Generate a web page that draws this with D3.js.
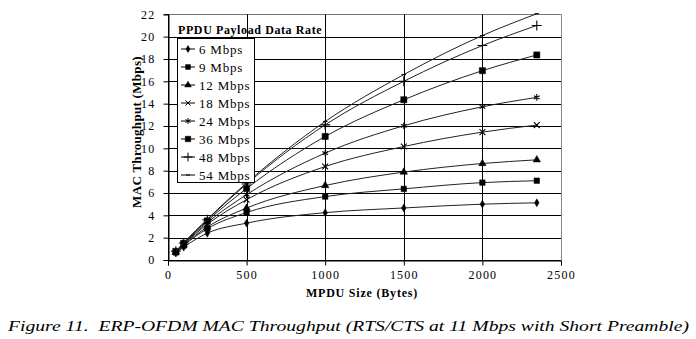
<!DOCTYPE html>
<html>
<head>
<meta charset="utf-8">
<script src="https://cdn.jsdelivr.net/npm/d3@7"></script>
<style>
  body { margin: 0; background: #fff; }
  svg text { font-family: "Liberation Serif", "Times New Roman", serif; fill: #000; }
</style>
</head>
<body>
<div id="chart"></div>
<script>
// MPDU sizes (bytes) and throughput per PPDU rate (Mbps)
const sizes = [50, 100, 250, 500, 1000, 1500, 2000, 2346];
const rateLabels = ["6 Mbps", "9 Mbps", "12 Mbps", "18 Mbps", "24 Mbps", "36 Mbps", "48 Mbps", "54 Mbps"];
const tput6  = [0.62, 1.15, 2.40, 3.30, 4.24, 4.66, 5.00, 5.12];
const tput9  = [0.68, 1.30, 2.80, 4.25, 5.68, 6.37, 6.93, 7.10];
const tput12 = [0.70, 1.35, 2.95, 4.65, 6.67, 7.87, 8.64, 8.97];
const tput18 = [0.73, 1.40, 3.20, 5.40, 8.37, 10.16, 11.45, 12.08];
const tput24 = [0.75, 1.45, 3.35, 5.85, 9.57, 12.02, 13.72, 14.56];
const tput36 = [0.77, 1.50, 3.50, 6.40, 11.06, 14.35, 16.95, 18.36];
const tput48 = [0.78, 1.52, 3.60, 6.80, 12.10, 16.00, 19.20, 21.00];
const tput54 = [0.79, 1.55, 3.65, 6.90, 12.40, 16.60, 20.10, 22.05];
const xTicks = [0, 500, 1000, 1500, 2000, 2500];
const yTicks = [0, 2, 4, 6, 8, 10, 12, 14, 16, 18, 20, 22];

const allSeries = [tput6, tput9, tput12, tput18, tput24, tput36, tput48, tput54];

const width = 696, height = 339;
const svg = d3.select("#chart").append("svg")
  .attr("width", width).attr("height", height);

const x = d3.scaleLinear().domain([0, 2500]).range([168, 561]);
const y = d3.scaleLinear().domain([0, 22]).range([260, 14.3]);

// marker shapes, one per rate
const dash = { draw(ctx, size) { const r = Math.sqrt(size) / 2; ctx.moveTo(-r, 0); ctx.lineTo(r, 0); } };
const markerDefs = [
  { type: d3.symbolDiamond, size: 18, fill: true },
  { type: d3.symbolSquare, size: 30, fill: true },
  { type: d3.symbolTriangle, size: 24, fill: true },
  { type: d3.symbolTimes || d3.symbolX, size: 24, fill: false },
  { type: d3.symbolAsterisk, size: 30, fill: false },
  { type: d3.symbolSquare, size: 38, fill: true },
  { type: d3.symbolPlus, size: 34, fill: false },
  { type: dash, size: 20, fill: false }
];

// grid
const grid = svg.append("g");
grid.selectAll(".hg").data(yTicks).join("line")
  .attr("x1", x(0)).attr("x2", x(2500))
  .attr("y1", d => Math.round(y(d)) + 0.5).attr("y2", d => Math.round(y(d)) + 0.5)
  .attr("stroke", d => d === 22 ? "#777" : "#000").attr("stroke-width", 1);
grid.selectAll(".vg").data(xTicks).join("line")
  .attr("x1", d => Math.round(x(d)) + 0.5).attr("x2", d => Math.round(x(d)) + 0.5)
  .attr("y1", y(22)).attr("y2", y(0))
  .attr("stroke", d => d === 2500 ? "#888" : "#000").attr("stroke-width", 1);

// axes
const xAxis = svg.append("g")
  .attr("transform", `translate(0,${Math.round(y(0)) + 0.5})`)
  .call(d3.axisBottom(x).tickValues(xTicks).tickSize(5).tickPadding(5).tickFormat(d3.format("d")));
const yAxis = svg.append("g")
  .attr("transform", `translate(${Math.round(x(0)) + 0.5},0)`)
  .call(d3.axisLeft(y).tickValues(yTicks).tickSize(5).tickPadding(8).tickFormat(d3.format("d")));
[xAxis, yAxis].forEach(a => {
  a.select(".domain").attr("stroke", "#000");
  a.selectAll(".tick line").attr("stroke", "#000");
  a.selectAll("text").attr("font-size", 12).attr("letter-spacing", "1.2px").attr("fill", "#222");
});

// series lines and markers
const line = d3.line().x((d, i) => x(sizes[i])).y(d => y(d)).curve(d3.curveMonotoneX);
svg.append("clipPath").attr("id", "clip").append("rect")
  .attr("x", x(0)).attr("y", y(22) - 1).attr("width", x(2500) - x(0)).attr("height", y(0) - y(22) + 1);

const series = svg.append("g");
allSeries.forEach((vals, k) => {
  series.append("path").datum(vals)
    .attr("d", line).attr("fill", "none").attr("stroke", "#222").attr("stroke-width", 1)
    .attr("clip-path", "url(#clip)");
  const m = markerDefs[k];
  series.selectAll(".m" + k).data(vals).join("path")
    .attr("transform", (d, i) => `translate(${x(sizes[i])},${y(d)})`)
    .attr("d", d3.symbol().type(m.type).size(m.size))
    .attr("fill", m.fill ? "#000" : "none")
    .attr("stroke", "#000").attr("stroke-width", m.fill ? 0.5 : 1.1);
});

// legend
svg.append("text").attr("x", 178).attr("y", 34)
  .attr("font-size", 12).attr("font-weight", "bold").attr("letter-spacing", "0.6px")
  .text("PPDU Payload Data Rate");
const leg = svg.append("g");
leg.append("rect").attr("x", 177.5).attr("y", 38.5).attr("width", 77).attr("height", 144)
  .attr("fill", "#fff").attr("stroke", "#000");
rateLabels.forEach((lab, k) => {
  const cy = 49 + k * 18;
  leg.append("line").attr("x1", 181).attr("x2", 195).attr("y1", cy).attr("y2", cy)
    .attr("stroke", "#000");
  const m = markerDefs[k];
  leg.append("path").attr("transform", `translate(188,${cy})`)
    .attr("d", d3.symbol().type(m.type).size(m.size * 0.8))
    .attr("fill", m.fill ? "#000" : "none").attr("stroke", "#000").attr("stroke-width", m.fill ? 0.5 : 1);
  leg.append("text").attr("x", 199).attr("y", cy + 4.5)
    .attr("font-size", 13).attr("letter-spacing", "0.8px").text(lab);
});

// axis titles
svg.append("text").attr("x", 362).attr("y", 297).attr("text-anchor", "middle")
  .attr("font-size", 12).attr("font-weight", "bold").attr("letter-spacing", "0.8px")
  .text("MPDU Size (Bytes)");
svg.append("text").attr("transform", "translate(141,132) rotate(-90)").attr("text-anchor", "middle")
  .attr("font-size", 13).attr("font-weight", "bold").attr("letter-spacing", "0.3px")
  .text("MAC Throughput (Mbps)");

// caption
svg.append("text").attr("x", 8).attr("y", 331)
  .style("white-space", "pre")
  .attr("font-family", "DejaVu Serif").attr("font-style", "italic").attr("font-size", 15)
  .attr("textLength", 681).attr("lengthAdjust", "spacingAndGlyphs")
  .text("Figure 11.  ERP-OFDM MAC Throughput (RTS/CTS at 11 Mbps with Short Preamble)");
</script>
</body>
</html>
